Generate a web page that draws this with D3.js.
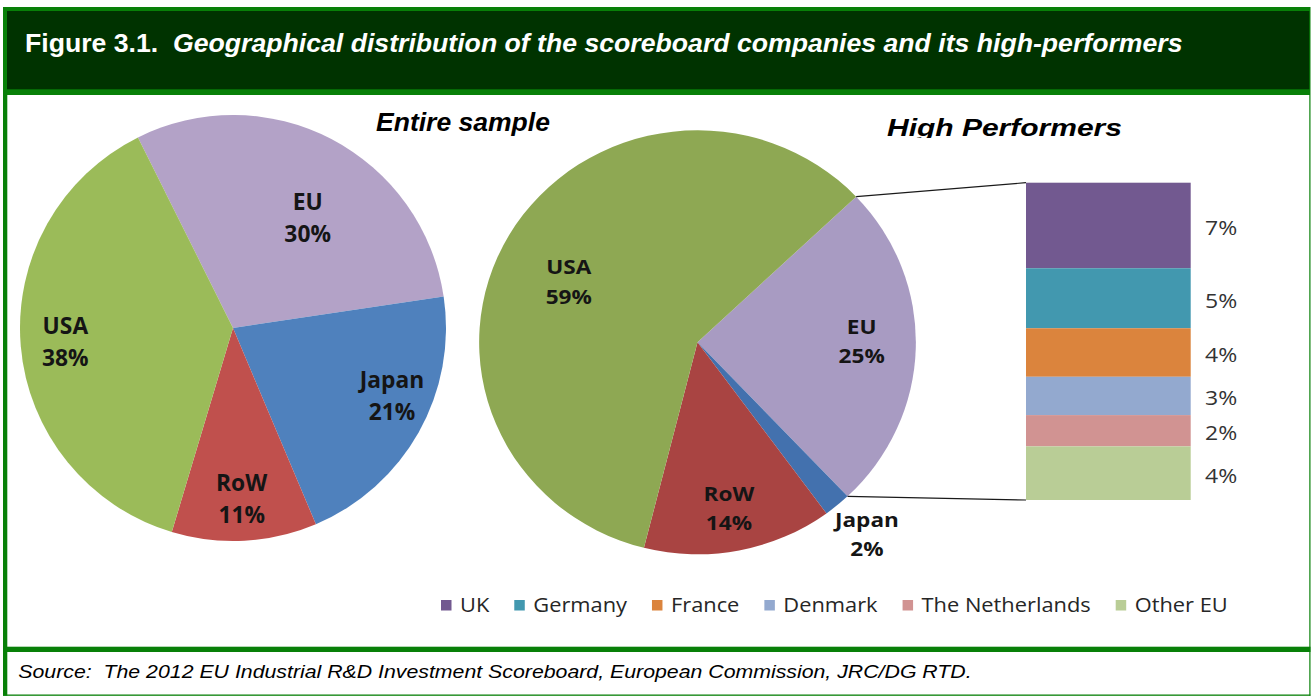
<!DOCTYPE html>
<html>
<head>
<meta charset="utf-8">
<script src="https://cdn.jsdelivr.net/npm/d3@7"></script>
<style>
  body { margin: 0; background: #fff; }
  svg { display: block; }
</style>
</head>
<body>
<svg id="chart" width="1311" height="696"></svg>
<script>
// ---- data ----
const regions = ["EU", "Japan", "RoW", "USA"];
const entireShares = [30, 21, 11, 38];
const highShares = [25, 2, 14, 59];
const euCountries = ["UK", "Germany", "France", "Denmark", "The Netherlands", "Other EU"];
const euShares = [6.7, 4.7, 3.8, 3.0, 2.45, 4.2];

const titleLead = "Figure 3.1.";
const titleRest = "Geographical distribution of the scoreboard companies and its high-performers";
const sourceText = "Source:  The 2012 EU Industrial R&D Investment Scoreboard, European Commission, JRC/DG RTD.";

// ---- styles ----
const entireColors = { EU: "#b3a2c7", Japan: "#4f81bd", RoW: "#c0504d", USA: "#9bbb59" };
const highColors = { EU: "#a89bc2", Japan: "#4371ae", RoW: "#a94442", USA: "#8ea853" };
const countryColors = ["#725990", "#4298af", "#db843d", "#93a9cf", "#d19392", "#b9cd96"];
const calibri = "'Open Sans', 'Noto Sans', sans-serif";
const arial = "'Liberation Sans', Arial, sans-serif";

const svg = d3.select("#chart");
const rad = d => d * Math.PI / 180;

// ---- frame ----
const green = "#088008", dark = "#003300";
svg.append("rect").attr("x", 3).attr("y", 7).attr("width", 1307.5).attr("height", 88).attr("fill", green);
svg.append("rect").attr("x", 7).attr("y", 11).attr("width", 1302.3).attr("height", 78.3).attr("fill", dark);
svg.append("rect").attr("x", 3).attr("y", 95).attr("width", 4.3).attr("height", 600.7).attr("fill", green);
svg.append("rect").attr("x", 1309.3).attr("y", 95).attr("width", 1.2).attr("height", 600.7).attr("fill", green);
svg.append("rect").attr("x", 3).attr("y", 646.7).attr("width", 1307.5).attr("height", 5.3).attr("fill", green);
svg.append("rect").attr("x", 3).attr("y", 694.5).attr("width", 1307.5).attr("height", 1.3).attr("fill", green);

// text helper: squeeze / stretch a text to a target width
function fitWidth(t, x, y, target) {
  const w = t.node().getComputedTextLength();
  t.attr("x", 0).attr("y", 0).attr("transform", `translate(${x},${y}) scale(${target / w},1)`);
}
function stretchText(g, str, x, y, opts) {
  const t = g.append("text")
    .attr("transform", `translate(${x},${y}) scale(${opts.sx},1)`)
    .attr("text-anchor", opts.anchor || "start")
    .attr("font-family", calibri)
    .attr("font-size", opts.size)
    .attr("font-weight", opts.weight || "normal")
    .attr("fill", opts.fill || "#000")
    .text(str);
  return t;
}

// ---- title ----
const title = svg.append("text")
  .attr("font-family", arial).attr("font-weight", "bold").attr("font-size", 26.5).attr("fill", "#fff");
title.append("tspan").text(titleLead + "\u00a0\u00a0");
title.append("tspan").attr("font-style", "italic").text(titleRest);
fitWidth(title, 25, 52, 1158);

// ---- source ----
const src = svg.append("text")
  .attr("font-family", arial).attr("font-style", "italic").attr("font-size", 19).attr("fill", "#000")
  .text(sourceText.replace("  ", "\u00a0\u00a0"));
fitWidth(src, 18.3, 678.3, 954);

// ---- pies ----
function drawPie(opts) {
  const data = regions.map((r, i) => ({ region: r, value: opts.values[i] }));
  const pie = d3.pie().sort(null).value(d => d.value)
    .startAngle(rad(opts.start)).endAngle(rad(opts.start + 360));
  const arcs = pie(data);
  const arc = d3.arc().innerRadius(0).outerRadius(opts.r);
  const g = svg.append("g")
    .attr("transform", `translate(${opts.cx},${opts.cy}) scale(${opts.sx},1)`);
  g.selectAll("path").data(arcs).join("path")
    .attr("d", arc)
    .attr("fill", d => opts.colors[d.data.region]);

  const lg = svg.append("g");
  arcs.forEach(a => {
    const p = opts.labels[a.data.region];
    const ang = (a.startAngle + a.endAngle) / 2 + rad(p[1]);
    const dist = opts.r * p[0];
    const x = opts.cx + dist * Math.sin(ang) * opts.sx;
    const y = opts.cy - dist * Math.cos(ang);
    const o = { size: opts.fontSize, weight: "bold", sx: opts.textSx, anchor: "middle", fill: "#151515" };
    stretchText(lg, a.data.region, x, y - opts.up, o);
    stretchText(lg, Math.round(a.data.value) + "%", x, y - opts.up + opts.lineH, o);
  });
  return arcs;
}

drawPie({
  values: entireShares, colors: entireColors, start: -26.5,
  cx: 233, cy: 328, r: 213, sx: 1,
  fontSize: 24, textSx: 0.95, up: 8, lineH: 32,
  labels: { EU: [0.625, 6.6], Japan: [0.812, -6.1], RoW: [0.804, 0.2], USA: [0.79, 0] }
});

const hpR = 212, hpCx = 697.5, hpCy = 342.3, hpSx = 1.03;
const hpArcs = drawPie({
  values: highShares, colors: highColors, start: 46.6,
  cx: hpCx, cy: hpCy, r: hpR, sx: hpSx,
  fontSize: 20, textSx: 1.13, up: 7, lineH: 29.5,
  labels: { EU: [0.752, -2.1], Japan: [1.19, -0.9], RoW: [0.793, 0.55], USA: [0.656, -4.4] }
});

// ---- EU breakdown column ----
const barX = 1026, barW = 164.7;
const y = d3.scaleLinear().domain([0, d3.sum(euShares)]).range([182.7, 500]);
const cum = [0, ...d3.cumsum(euShares)];
const segs = euCountries.map((c, i) => ({ country: c, value: euShares[i], y0: cum[i], y1: cum[i + 1] }));

svg.append("g").selectAll("rect").data(segs).join("rect")
  .attr("x", barX).attr("width", barW)
  .attr("y", d => y(d.y0))
  .attr("height", d => y(d.y1) - y(d.y0))
  .attr("fill", (d, i) => countryColors[i]);

const barLabels = svg.append("g");
segs.forEach(d => {
  stretchText(barLabels, Math.round(d.value) + "%", 1205, (y(d.y0) + y(d.y1)) / 2 + 9.5,
    { size: 20, sx: 1.15, fill: "#333" });
});

// connector lines from the EU slice to the column
const euArc = hpArcs.find(a => a.data.region === "EU");
const edge = ang => [hpCx + hpR * hpSx * Math.sin(ang), hpCy - hpR * Math.cos(ang)];
const pTop = edge(euArc.startAngle), pBot = edge(euArc.endAngle);
svg.append("line").attr("x1", pTop[0]).attr("y1", pTop[1]).attr("x2", barX).attr("y2", y(0))
  .attr("stroke", "#1a1a1a").attr("stroke-width", 1.2);
svg.append("line").attr("x1", pBot[0]).attr("y1", pBot[1]).attr("x2", barX).attr("y2", y(d3.sum(euShares)))
  .attr("stroke", "#1a1a1a").attr("stroke-width", 1.2);

// ---- sub titles ----
const st1 = svg.append("text").attr("font-family", arial).attr("font-weight", "bold")
  .attr("font-style", "italic").attr("font-size", 25).attr("fill", "#000").text("Entire sample");
fitWidth(st1, 376, 130.7, 174);

svg.append("clipPath").attr("id", "hpclip")
  .append("rect").attr("x", 0).attr("y", 0).attr("width", 1311).attr("height", 138);
const st2 = svg.append("g").attr("clip-path", "url(#hpclip)")
  .append("text").attr("font-family", arial).attr("font-weight", "bold")
  .attr("font-style", "italic").attr("font-size", 24).attr("fill", "#000").text("High Performers");
fitWidth(st2, 887, 135.5, 235);

// ---- legend ----
const legend = svg.append("g");
let lx = 441;
euCountries.forEach((c, i) => {
  legend.append("rect").attr("x", lx).attr("y", 600).attr("width", 10.5).attr("height", 10.5)
    .attr("fill", countryColors[i]);
  const sx = 1.12;
  const t = stretchText(legend, c, lx + 19, 611.5, { size: 19.5, sx: sx, fill: "#262626" });
  lx += 19 + t.node().getComputedTextLength() * sx + 25;
});
</script>
</body>
</html>
